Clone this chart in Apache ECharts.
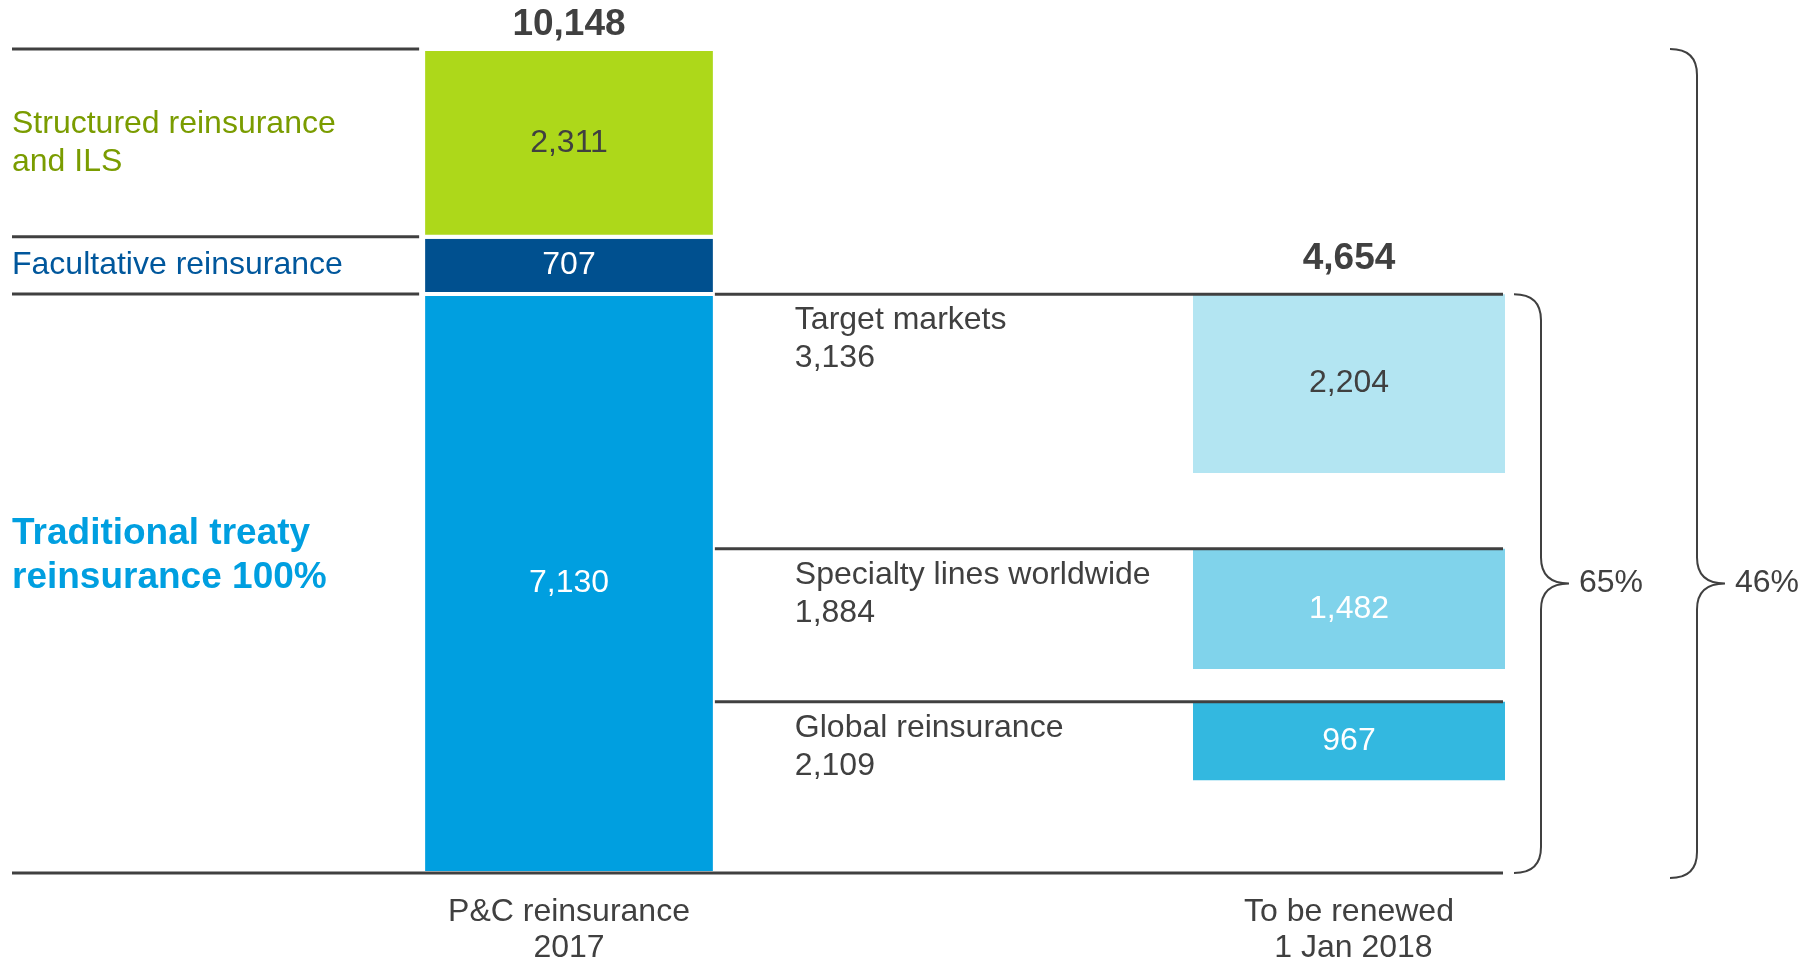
<!DOCTYPE html>
<html lang="en">
<head>
<meta charset="UTF-8">
<title>P&amp;C reinsurance renewals</title>
<script src="https://cdn.jsdelivr.net/npm/echarts@6/dist/echarts.min.js"></script>
<style>
  html, body { margin: 0; padding: 0; background: #fff; }
  #main { width: 1810px; height: 962px; }
</style>
</head>
<body>
<div id="main"></div>
<script>
// x axis categories
var categories = ['P&C reinsurance\n2017', 'To be renewed\n 1 Jan 2018'];
// 2017 volume, bottom to top
var segmentNames = ['Traditional treaty\nreinsurance 100%', 'Facultative reinsurance', 'Structured reinsurance\nand ILS'];
var segmentValues = [7130, 707, 2311];
// treaty split, bottom to top
var treatyNames = ['Global reinsurance', 'Specialty lines worldwide', 'Target markets'];
var treatyValues = [2109, 1884, 3136];
// volume up for renewal on 1 Jan
var renewValues = [967, 1482, 2204];
var totals = [10148, 4654];
var shareLabels = ['65%', '46%'];

// styles
var leftColors = ['#009fe0', '#00508f', '#add81a'];
var leftText = ['#ffffff', '#ffffff', '#404040'];
var nameColors = ['#009fe0', '#00579c', '#7a9c00'];
var rightColors = ['#33b8e0', '#80d3eb', '#b3e5f2'];
var rightText = ['#ffffff', '#ffffff', '#404040'];
var ink = '#404040';
var FONT = 'Liberation Sans, Arial, sans-serif';
var FS = 32;
var LEFT_W = 0.374, RIGHT_W = 0.40;

function fmt(v) { return v.toLocaleString('en-US'); }

// build item rows from the arrays
var leftData = [];
var acc = 0;
segmentValues.forEach(function (v, i) {
  leftData.push([0, acc, acc + v, i]);
  acc += v;
});
var rightData = [];
acc = 0;
treatyValues.forEach(function (v, i) {
  var top = acc + v;
  rightData.push([1, top - renewValues[i], top, i]);
  acc = top;
});
var treatySum = acc;
// both braces point at the middle of the treaty block
var braceData = [[1, treatySum, 0, treatySum / 2], [1, totals[0], 1, treatySum / 2]];

function txt(x, y, s, opt) {
  return {
    type: 'text',
    style: Object.assign({
      x: x, y: y, text: s, fill: ink, fontFamily: FONT, fontSize: FS,
      align: 'center', verticalAlign: 'middle'
    }, opt || {})
  };
}
function hline(x1, x2, y) {
  return { type: 'line', shape: { x1: x1, y1: y, x2: x2, y2: y }, style: { stroke: ink, lineWidth: 3 } };
}

function renderLeft(params, api) {
  var i = api.value(3);
  var lo = api.coord([0, api.value(1)]);
  var hi = api.coord([0, api.value(2)]);
  var band = api.size([1, 0])[0];
  var w = band * LEFT_W;
  var x = lo[0] - w / 2;
  var kids = [
    { type: 'rect', shape: { x: x, y: hi[1], width: w, height: lo[1] - hi[1] },
      style: { fill: leftColors[i], stroke: '#fff', lineWidth: 4 } },
    txt(lo[0], (lo[1] + hi[1]) / 2, fmt(segmentValues[i]), { fill: leftText[i] }),
    hline(12, x - 4, hi[1])
  ];
  var nameOpt = { align: 'left', fill: nameColors[i], lineHeight: 38 };
  var ny = (lo[1] + hi[1]) / 2;
  if (i === 0) {
    nameOpt.fontWeight = 'bold';
    nameOpt.fontSize = 37;
    nameOpt.lineHeight = 44;
    ny -= 28;
    // baseline across both bars
    var rEdge = api.coord([1, 0])[0] + band * RIGHT_W / 2;
    kids.push(hline(12, rEdge - 2, lo[1]));
  }
  kids.push(txt(12, ny, segmentNames[i], nameOpt));
  if (i === segmentValues.length - 1) {
    kids.push(txt(lo[0], hi[1] - 24, fmt(totals[0]), { fontWeight: 'bold', fontSize: 37 }));
  }
  return { type: 'group', children: kids };
}

function renderRight(params, api) {
  var i = api.value(3);
  var lo = api.coord([1, api.value(1)]);
  var hi = api.coord([1, api.value(2)]);
  var band = api.size([1, 0])[0];
  var w = band * RIGHT_W;
  var x = lo[0] - w / 2;
  var leftEdge = api.coord([0, 0])[0] + band * LEFT_W / 2;
  var kids = [
    { type: 'rect', shape: { x: x, y: hi[1], width: w, height: lo[1] - hi[1] },
      style: { fill: rightColors[i] } },
    txt(lo[0], (lo[1] + hi[1]) / 2, fmt(renewValues[i]), { fill: rightText[i] }),
    hline(leftEdge, x + w - 2, hi[1]),
    txt(leftEdge + 80, hi[1] + 7, treatyNames[i] + '\n' + fmt(treatyValues[i]),
      { align: 'left', verticalAlign: 'top', lineHeight: 38 })
  ];
  if (i === treatyValues.length - 1) {
    kids.push(txt(lo[0], hi[1] - 35, fmt(totals[1]), { fontWeight: 'bold', fontSize: 37 }));
  }
  return { type: 'group', children: kids };
}

function renderBrace(params, api) {
  var k = api.value(2);
  var band = api.size([1, 0])[0];
  var edge = api.coord([1, 0])[0] + band * RIGHT_W / 2;
  var bot = api.coord([1, 0])[1] + (k === 1 ? 5 : 0);
  var top = api.coord([1, api.value(1)])[1];
  var mid = api.coord([1, api.value(3)])[1];
  var x0 = edge + (k === 0 ? 9 : 165);
  var xs = x0 + 27;
  var xt = xs + 28;
  var r = 26;
  var d = 'M' + x0 + ' ' + top +
    ' Q' + xs + ' ' + top + ' ' + xs + ' ' + (top + r) +
    ' L' + xs + ' ' + (mid - r) +
    ' Q' + xs + ' ' + mid + ' ' + xt + ' ' + mid +
    ' Q' + xs + ' ' + mid + ' ' + xs + ' ' + (mid + r) +
    ' L' + xs + ' ' + (bot - r) +
    ' Q' + xs + ' ' + bot + ' ' + x0 + ' ' + bot;
  return {
    type: 'group',
    children: [
      { type: 'path', shape: { pathData: d }, style: { fill: null, stroke: ink, lineWidth: 2 } },
      txt(xt + 10, mid, shareLabels[k], { align: 'left' })
    ]
  };
}

var chart = echarts.init(document.getElementById('main'));
chart.setOption({
  animation: false,
  grid: { left: 179, right: 71, top: 49, bottom: 89, outerBoundsMode: 'none' },
  xAxis: {
    type: 'category',
    data: categories,
    axisLine: { show: false },
    axisTick: { show: false },
    axisLabel: { color: ink, fontFamily: FONT, fontSize: FS, lineHeight: 36, margin: 21 }
  },
  yAxis: { type: 'value', min: 0, max: totals[0], show: false },
  series: [
    { type: 'custom', name: 'P&C 2017', renderItem: renderLeft, data: leftData, clip: false },
    { type: 'custom', name: 'Renewal', renderItem: renderRight, data: rightData, clip: false },
    { type: 'custom', name: 'Share', renderItem: renderBrace, data: braceData, clip: false }
  ]
});
</script>
</body>
</html>
